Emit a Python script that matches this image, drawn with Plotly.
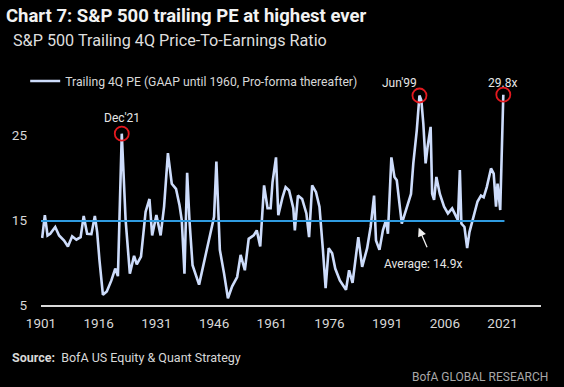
import plotly.graph_objects as go

# ---- data ----
years = [1901.3, 1902.0, 1902.7, 1903.4, 1904.7, 1905.7, 1907.0, 1908.0, 1909.1, 1910.2,
         1911.3, 1912.1, 1913.0, 1914.1, 1915.0, 1915.6, 1916.2, 1917.1, 1918.1, 1919.3,
         1920.3, 1921.0, 1922.0, 1923.0, 1924.1, 1925.2, 1925.9, 1927.0, 1928.2, 1929.2,
         1929.9, 1931.0, 1932.1, 1933.0, 1934.0, 1935.0, 1936.1, 1937.0, 1937.6, 1938.3,
         1939.0, 1939.6, 1940.4, 1942.1, 1943.9, 1945.1, 1946.0, 1946.6, 1947.5, 1948.6,
         1949.6, 1950.7, 1952.0, 1952.9, 1954.0, 1955.0, 1956.3, 1957.1, 1958.0, 1959.0,
         1959.9, 1960.7, 1961.2, 1962.1, 1962.7, 1963.8, 1964.6, 1965.5, 1966.6, 1967.0,
         1967.8, 1968.9, 1970.0, 1970.7, 1971.5, 1972.5, 1973.4, 1974.3, 1975.0, 1975.8,
         1976.7, 1977.5, 1978.7, 1980.3, 1981.1, 1982.0, 1983.5, 1984.5, 1985.8, 1986.7,
         1987.6, 1988.1, 1989.0, 1989.9, 1990.7, 1991.2, 1992.1, 1992.9, 1993.5, 1994.8,
         1996.1, 1997.2, 1997.8, 1998.7, 1999.4, 1999.9, 2000.4, 2001.0, 2001.5, 2002.3,
         2002.7, 2003.2, 2003.8, 2004.7, 2005.8, 2006.8, 2007.9, 2008.7, 2009.4, 2009.9,
         2010.3, 2011.1, 2011.8, 2012.4, 2013.0, 2013.7, 2014.5, 2015.4, 2016.1, 2016.9,
         2018.0, 2018.7, 2019.3, 2019.7, 2020.4, 2021.2]
pe = [12.9, 15.6, 13.2, 13.4, 14.2, 13.2, 12.6, 11.9, 13.1, 12.7,
      13.0, 15.5, 13.4, 13.35, 15.5, 13.6, 10.3, 6.2, 6.6, 7.9,
      9.3, 8.4, 25.2, 15.0, 8.7, 10.8, 9.8, 10.7, 16.0, 17.5,
      13.2, 15.6, 13.2, 16.6, 22.9, 19.3, 18.7, 16.8, 15.0, 8.7,
      20.6, 15.0, 9.7, 7.4, 11.1, 13.8, 15.4, 21.9, 11.5, 8.7,
      5.8, 7.2, 8.3, 10.9, 9.1, 12.8, 13.2, 13.8, 11.9, 19.1,
      16.4, 16.4, 19.5, 22.4, 15.6, 17.7, 18.9, 18.5, 16.4, 13.8,
      17.9, 17.5, 15.8, 13.0, 19.1, 18.3, 16.6, 11.5, 7.0, 11.7,
      11.1, 9.3, 7.9, 6.8, 9.1, 7.6, 13.0, 9.5, 11.7, 14.2,
      17.9, 12.6, 11.5, 13.8, 15.0, 13.4, 22.4, 20.1, 19.7, 14.6,
      16.6, 18.1, 21.7, 25.6, 29.7, 29.1, 26.4, 21.7, 23.6, 26.0,
      18.1, 17.4, 20.1, 18.1, 16.6, 15.8, 16.4, 15.6, 15.0, 20.9,
      14.6, 14.2, 11.7, 13.6, 14.6, 15.8, 17.2, 17.9, 17.7, 18.9,
      21.1, 20.5, 16.6, 19.3, 16.2, 29.8]
average_pe = 14.9
highlight_years = [1922.0, 1999.4, 2021.2]
highlight_pe = [25.2, 29.7, 29.8]
highlight_labels = ["Dec'21", "Jun'99", "29.8x"]
tick_years = [1901, 1916, 1931, 1946, 1961, 1976, 1991, 2006, 2021]
y_ticks = [5, 15, 25]

FONT = "Roboto, sans-serif"
TXT = "#e6e6e6"

fig = go.Figure()
fig.add_trace(go.Scatter(
    x=years, y=pe, mode="lines", name="Trailing 4Q PE (GAAP until 1960, Pro-forma thereafter)",
    line=dict(color="#cddcfb", width=2.6), showlegend=True))
fig.add_trace(go.Scatter(
    x=[1901, years[-1] + 0.3], y=[average_pe, average_pe], mode="lines",
    line=dict(color="#2f9be0", width=2), showlegend=False, hoverinfo="skip"))
fig.add_trace(go.Scatter(
    x=highlight_years, y=highlight_pe, mode="markers",
    marker=dict(symbol="circle-open", size=14, color="#e3191f", line=dict(width=1.8)),
    showlegend=False, cliponaxis=False))

# pixel helpers for paper coords
L, R, T, B = 35, 23, 76, 82
W, H = 564, 387
pw, ph = W - L - R, H - T - B
def px(x):
    return (x - L) / pw
def py(y):
    return (H - B - y) / ph

ann = []
ann.append(dict(x=highlight_years[0], y=27.1, xref="x", yref="y", text=highlight_labels[0],
                showarrow=False, font=dict(size=12, color=TXT, family=FONT)))
ann.append(dict(x=1994.3, y=31.2, xref="x", yref="y", text=highlight_labels[1],
                showarrow=False, font=dict(size=12, color=TXT, family=FONT)))
ann.append(dict(x=2021.0, y=31.2, xref="x", yref="y", text=highlight_labels[2],
                showarrow=False, font=dict(size=12, color=TXT, family=FONT)))
ann.append(dict(x=2000.2, y=9.8, xref="x", yref="y", text="Average: %.1fx" % average_pe,
                showarrow=False, font=dict(size=12, color=TXT, family=FONT)))
ann.append(dict(x=1999.2, y=14.1, xref="x", yref="y", text="", showarrow=True,
                ax=9, ay=21, arrowhead=2, arrowsize=1.3, arrowwidth=1.3, arrowcolor="#f0f0f0"))
ann.append(dict(x=px(5), y=py(41), xref="paper", yref="paper", xanchor="left", yanchor="middle",
                text="S&P 500 Trailing 4Q Price-To-Earnings Ratio", showarrow=False,
                font=dict(size=16.2, color="#dedede", family=FONT)))
ann.append(dict(x=px(4), y=py(357), xref="paper", yref="paper", xanchor="left", yanchor="middle",
                text="<b>Source:</b>  BofA US Equity & Quant Strategy", showarrow=False,
                font=dict(size=12.5, color="#d8d8d8", family=FONT)))
ann.append(dict(x=px(550), y=py(377), xref="paper", yref="paper", xanchor="right", yanchor="middle",
                text="BofA GLOBAL RESEARCH", showarrow=False,
                font=dict(size=12, color="#a8a8a8", family=FONT)))

fig.update_layout(
    width=W, height=H,
    margin=dict(l=L, r=R, t=T, b=B, pad=0),
    paper_bgcolor="#000000", plot_bgcolor="#000000",
    font=dict(family=FONT, color=TXT),
    title=dict(text="<b>Chart 7: S&P 500 trailing PE at highest ever</b>",
               x=6 / W, xanchor="left", xref="container", y=1 - 16 / H, yref="container",
               yanchor="middle", font=dict(size=18.5, color="#f2f2f2", family=FONT)),
    showlegend=True,
    legend=dict(x=px(19), y=py(81), xanchor="left", yanchor="middle",
                bgcolor="rgba(0,0,0,0)", font=dict(size=12.2, color="#d8d8d8", family=FONT),
                itemwidth=30),
    annotations=ann,
    xaxis=dict(range=[1901, 2031], tickvals=tick_years, ticktext=[str(t) for t in tick_years],
               showgrid=False, zeroline=False, showline=True, linecolor="#dadada", linewidth=2,
               ticks="", ticklabelstandoff=5,
               tickfont=dict(size=13.5, color="#d8d8d8", family=FONT)),
    yaxis=dict(range=[5, 32], tickvals=y_ticks, showgrid=False, zeroline=False, showline=False,
               ticks="", ticklabelstandoff=13, tickfont=dict(size=13.5, color="#d8d8d8", family=FONT)),
)
fig.write_html("out.html", post_script="document.body.style.margin='0px';",
               config={"displayModeBar": False})
